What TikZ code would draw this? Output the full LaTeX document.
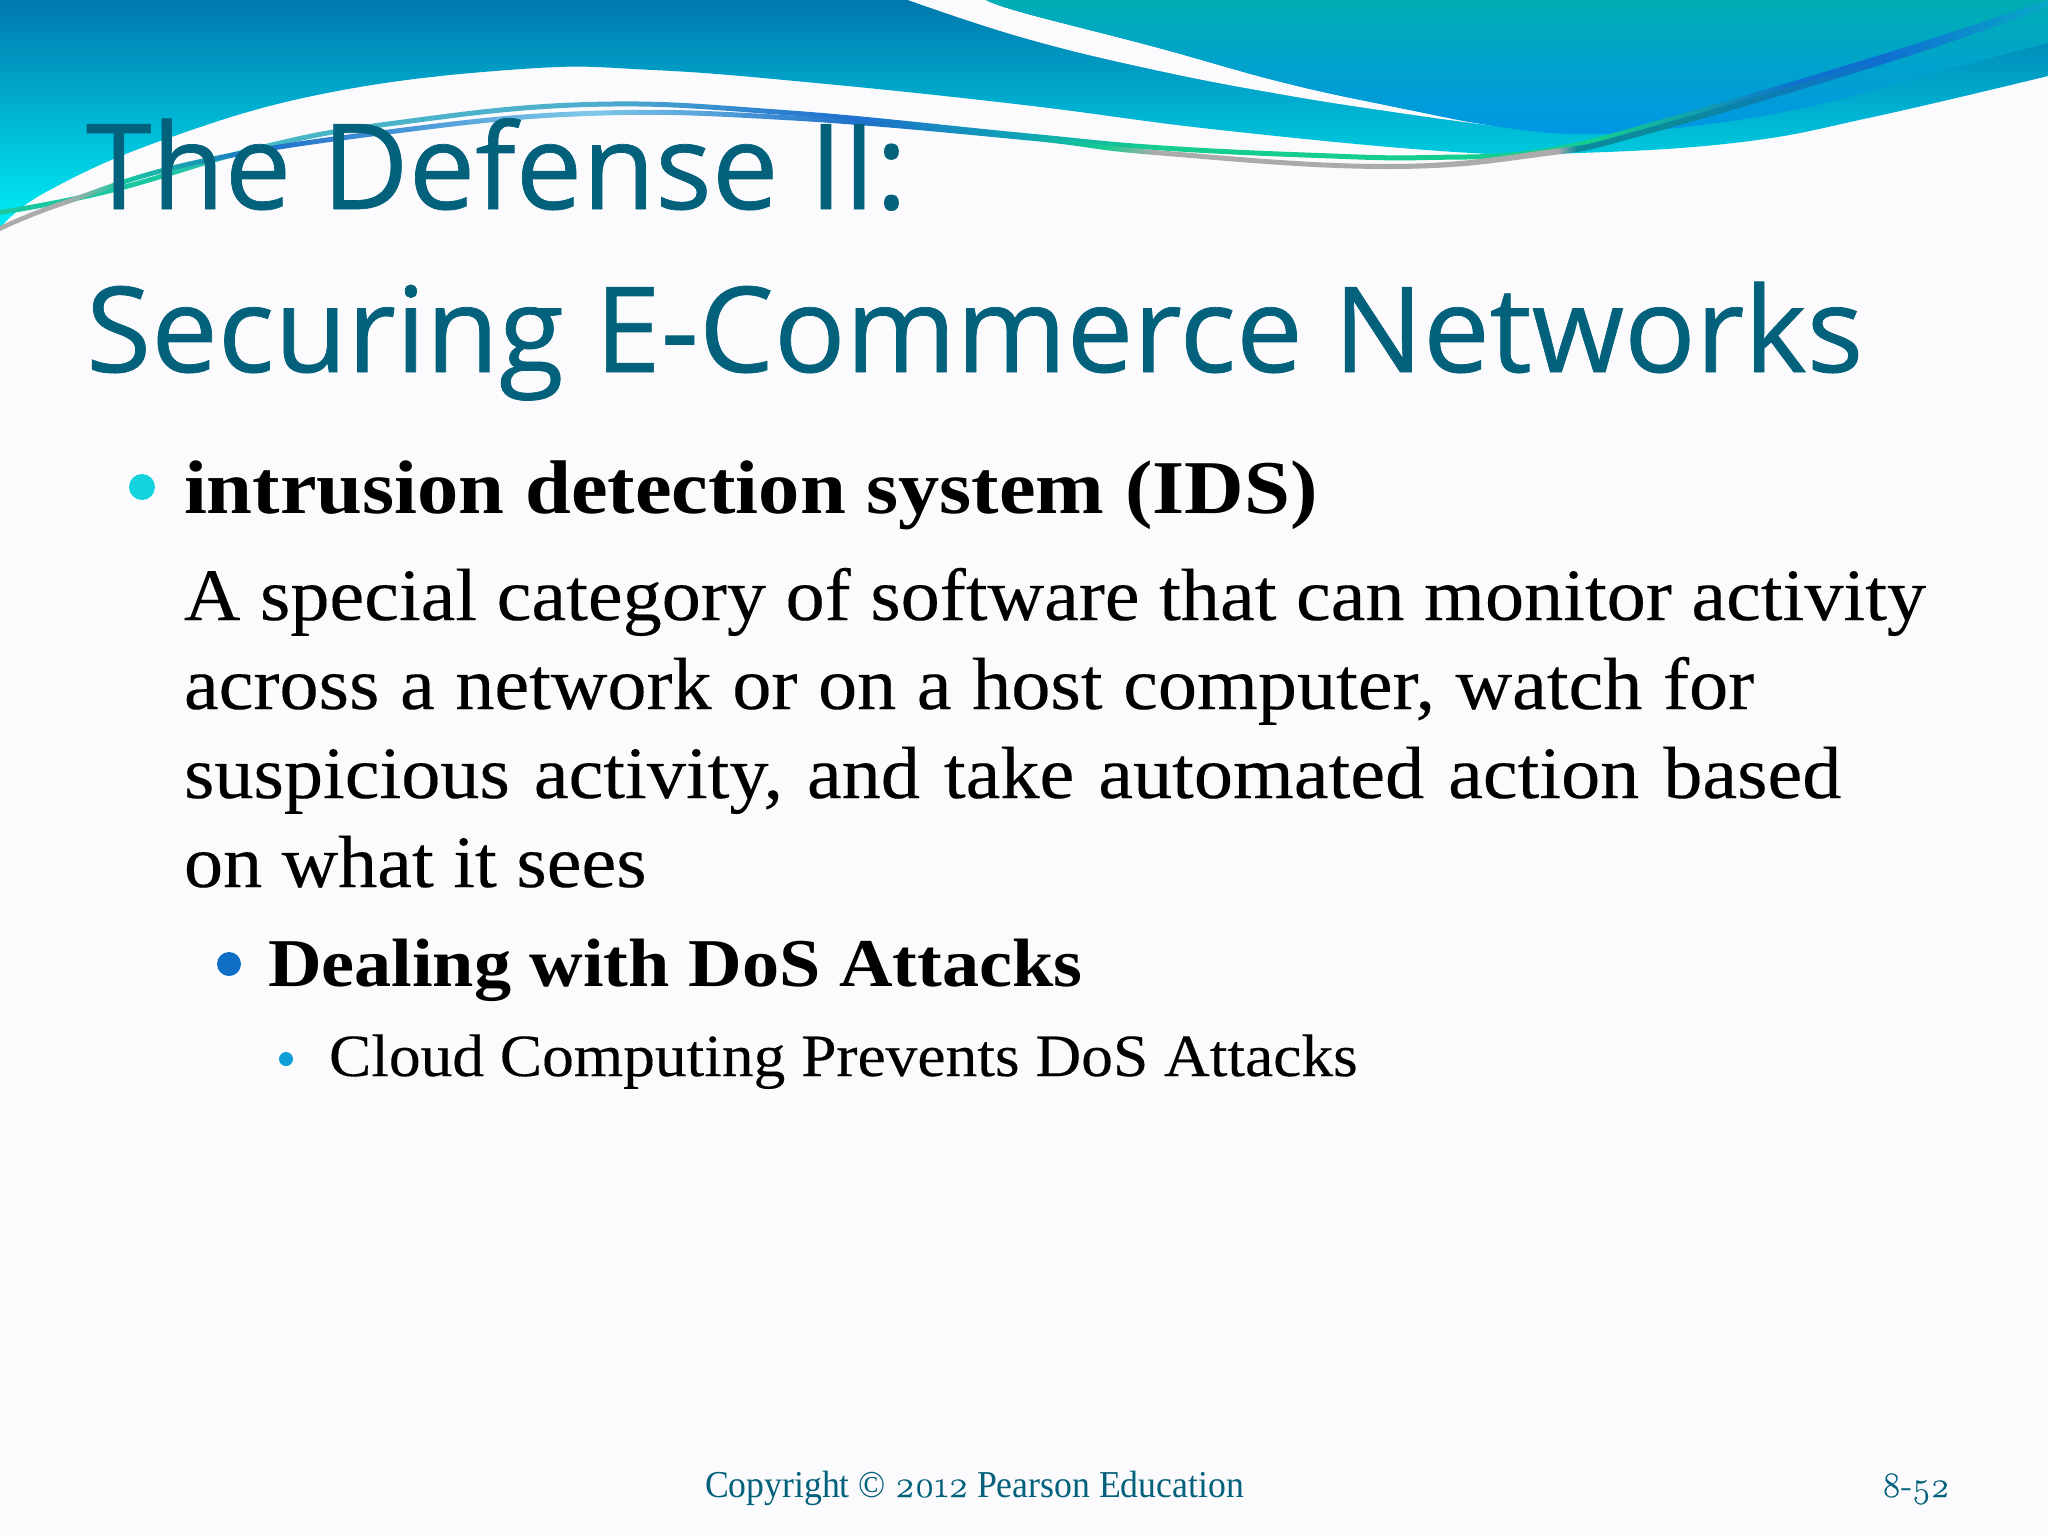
\documentclass[tikz,border=0pt]{standalone}
\usepackage{fontspec}
\setmainfont{Liberation Serif}[FakeStretch=1.057,FakeBold=0.2]
\newfontfamily\headfont{Liberation Serif Bold}[FakeStretch=1.085]
\newfontfamily\titlefont{Open Sans}[FakeBold=0.6]
\newfontfamily\footfont[Numbers=OldStyle,FakeBold=0.3]{Latin Modern Roman}
\newfontfamily\footserif{Liberation Serif}[FakeStretch=0.94]
\definecolor{pagebg}{HTML}{FBFBFD}
\definecolor{titlecol}{HTML}{04617B}
\definecolor{footcol}{HTML}{04617B}
\definecolor{mbB}{HTML}{00E8F2}
\definecolor{mbT}{HTML}{0078AE}
\definecolor{rbT}{HTML}{00AEB4}
\definecolor{rbB}{HTML}{0096E6}
\definecolor{w1}{HTML}{19C8A0}\definecolor{w2}{HTML}{45B8C4}\definecolor{w3}{HTML}{50AECF}
\definecolor{w4}{HTML}{1F6FD0}\definecolor{w5}{HTML}{10A5B5}\definecolor{w6}{HTML}{15CD90}
\definecolor{w7}{HTML}{0F6FD0}\definecolor{w8}{HTML}{08A8C8}
\definecolor{g1}{HTML}{ABABAB}\definecolor{g2}{HTML}{1D6FC9}\definecolor{g3}{HTML}{80C8E8}
\definecolor{g4}{HTML}{0A8A9C}
\definecolor{bulA}{HTML}{12D2DE}\definecolor{bulB}{HTML}{0F6FC6}\definecolor{bulC}{HTML}{0F9ED5}
\pgfdeclarehorizontalshading{waveA}{100bp}{
 color(0bp)=(w1);color(29bp)=(w1);color(31.3bp)=(w2);color(39.4bp)=(w3);color(45.8bp)=(w4);color(50bp)=(w5);color(53.2bp)=(w6);color(64bp)=(w6);color(69bp)=(w7);color(71bp)=(w7);color(75bp)=(w8);color(100bp)=(w8)}
\pgfdeclarehorizontalshading{waveB}{100bp}{
 color(0bp)=(g1);color(26.6bp)=(g1);color(28bp)=(w1);color(31.3bp)=(g2);color(39.4bp)=(g3);color(46bp)=(g2);color(50bp)=(w5);color(52bp)=(w6);color(53.2bp)=(g1);color(63bp)=(g1);color(63.5bp)=(g4);color(66bp)=(g4);color(71bp)=(w7);color(75bp)=(w8);color(100bp)=(w8)}
\tikzset{
 txt/.style={anchor=base west,inner sep=0pt,outer sep=0pt,text=black},
 titletxt/.style={txt,text=titlecol,font=\titlefont\fontsize{59.4}{66}\selectfont},
 headtxt/.style={txt,font=\headfont\fontsize{38}{44}\selectfont},
 bodytxt/.style={txt,font=\fontsize{37}{40}\selectfont},
 subtxt/.style={txt,font=\headfont\fontsize{34.2}{40}\selectfont},
 smalltxt/.style={txt,font=\fontsize{30}{36}\selectfont},
 foottxt/.style={txt,text=footcol,font=\footserif\fontsize{19}{22}\selectfont},
 bull/.style={circle,inner sep=0pt,outer sep=0pt,minimum size=#1},
 smoothline/.style={smooth,tension=0.7}
}
\begin{document}
\begin{tikzpicture}[x=0.5pt,y=-0.5pt]
\useasboundingbox (0,0) rectangle (2048,1536);
\fill[pagebg] (0,0) rectangle (2048,1536);
% main band
\begin{scope}
\clip plot[smoothline] coordinates {(0,228)(46,192)(163,140)(327,93)(522,69)(653,70)(816,83)(1024,105)(1220,130)(1455,152)(1579,153)(1742,142)(1873,117)(2048,76)} -- (2048,0) -- (0,0) -- cycle;
\shade[top color=mbT,bottom color=mbB] (-1,0) rectangle (2049,215);
\fill[mbB] (-1,214) rectangle (100,230);
\end{scope}
% white swoosh
\fill[pagebg] plot[smoothline] coordinates {(908,0)(1024,38)(1155,70)(1285,95)(1400,113)(1494,126)}
 -- plot[smoothline] coordinates {(1494,126)(1400,108)(1285,83)(1155,47)(1024,13)(986,0)} -- cycle;
% right blue
\begin{scope}
\clip plot[smoothline] coordinates {(986,0)(1024,13)(1155,47)(1285,83)(1400,108)(1494,126)(1579,134)(1677,128)(1808,107)(1938,72)(2048,43)} -- (2048,0) -- cycle;
\shade[top color=rbT,bottom color=rbB] (900,0) rectangle (2049,135);
\end{scope}
% waves
\shade[shading=waveA] plot[smoothline] coordinates {(0,210)(111,188)(261,145)(392,121)(588,102)(784,110)(1024,133)(1155,145)(1318,153)(1429,155)(1546,148)(1677,115)(1893,51)(2048,0)}
 -- plot[smoothline] coordinates {(2048,3)(1893,56)(1677,120)(1546,153)(1429,160)(1318,158)(1155,150)(1024,138)(784,115)(588,107)(392,126)(261,150)(111,193)(0,215)} -- cycle;
\shade[shading=waveB] plot[smoothline] coordinates {(0,226)(65,200)(196,160)(392,129)(588,111)(784,115)(1024,135)(1155,150)(1384,164)(1546,150)(1644,129)(1893,55)(2048,3)}
 -- plot[smoothline] coordinates {(2048,7)(1893,61)(1644,135)(1546,156)(1384,169)(1155,155)(1024,140)(784,120)(588,116)(392,134)(196,165)(65,205)(0,231)} -- cycle;
% text
\node[titletxt] (t1) at (86,209) {The Defense II:};
\node[titletxt] (t2) at (86,372) {Securing E-Commerce Networks};
\node[bull=13pt,fill=bulA] (b1) at (142,487) {};
\node[headtxt] (h1) at (184,513) {intrusion detection system (IDS)};
\node[bodytxt] (l1) at (184,620) {A special category of software that can monitor activity};
\node[bodytxt] (l2) at (184,709) {\spaceskip=10.3pt across a network or on a host computer, watch for};
\node[bodytxt] (l3) at (184,798) {\spaceskip=12pt suspicious activity, and take automated action based};
\node[bodytxt] (l4) at (184,887) {on what it sees};
\node[bull=12pt,fill=bulB] (b2) at (229,964) {};
\node[subtxt] (h2) at (268,986) {Dealing with DoS Attacks};
\node[bull=7pt,fill=bulC] (b3) at (286,1059) {};
\node[smalltxt] (s1) at (329,1076) {Cloud Computing Prevents DoS Attacks};
\node[foottxt] (f1) at (705,1497) {Copyright © {\footfont 2012} Pearson Education};
\node[foottxt] (f2) at (1882,1497) {{\footfont\fontsize{18}{22}\selectfont 8-52}};
\end{tikzpicture}
\end{document}
